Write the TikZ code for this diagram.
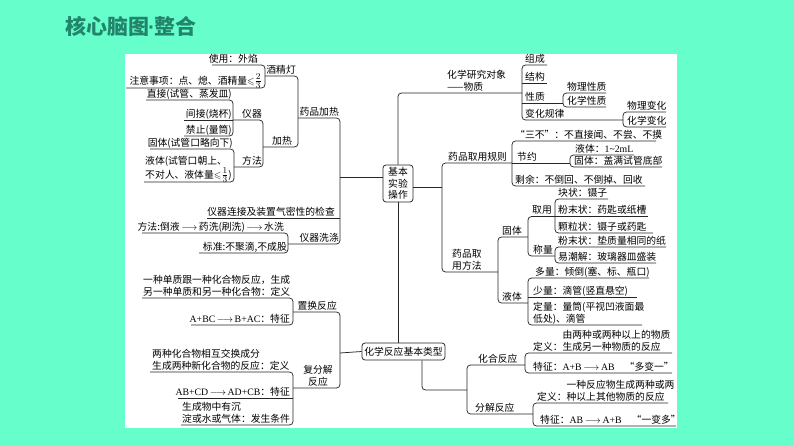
\documentclass[tikz,border=0pt]{standalone}
\usepackage{amssymb}
\usepackage{fontspec}
\setmainfont{Noto Sans CJK SC}
\newfontfamily\lat{Liberation Serif}
\newfontfamily\latsans{Liberation Sans}
\definecolor{bgc}{RGB}{102,255,204}
\definecolor{titlec}{RGB}{34,132,106}
\newcommand\myarr{\,$\longrightarrow$\,}
\newcommand\bigfrac[2]{{\fontsize{12.5}{12.5}\selectfont$\frac{#1}{#2}$}}
\newcommand\twol[2]{\begin{tabular}[b]{@{}l@{}}#1\\#2\end{tabular}}
\newcommand\twoc[2]{\begin{tabular}[b]{@{}c@{}}#1\\#2\end{tabular}}
\newcommand\defl[2]{\begin{tabular}[b]{@{}l@{}l@{}}&#1\\定义：&#2\end{tabular}}
\tikzset{
  ln/.style={draw=black!85, line width=0.75pt},
  br/.style={ln, rounded corners=3.5pt},
  t/.style={inner sep=0pt, font=\fontsize{9.8}{11.6}\selectfont},
  le/.style={t, anchor=base east},
  ri/.style={t, anchor=base west},
  box/.style={ln, rounded corners=3pt, inner sep=0pt, align=center, font=\fontsize{9.8}{11.6}\selectfont}
}
\begin{document}
\begin{tikzpicture}[x=1pt,y=-1pt]
\fill[bgc] (0,0) rectangle (794,446);
\useasboundingbox (0,0) rectangle (794,446);
\fill[white] (125,54) rectangle (677,428);
\node[font=\fontsize{21}{21}\selectfont\bfseries, text=titlec, anchor=base west, inner sep=0pt] (title) at (65,35) {核心脑图{\latsans\bfseries\kern-1pt·\kern-1pt}整合};

% root boxes
\node[box, minimum width=30, minimum height=37] (B1) at (398,183.5) {基本\\实验\\操作};
\node[box, minimum width=83, minimum height=17] (B2) at (403.5,351.5) {化学反应基本类型};

% ---------- left upper tree ----------
\node[le] (L1) at (258,62.5) {使用：外焰};
\node[le] (L2) at (262,84.5) {注意事项：点、熄、酒精量$\leqslant$\bigfrac{2}{3}};
\node[le] (L3) at (296,73.5) {酒精灯};
\node[le] (L4) at (232,97.5) {直接(试管、蒸发皿)};
\node[le] (L5) at (232,117.5) {间接(烧杯)};
\node[le] (L6) at (232,133.5) {禁止(量筒)};
\node[le] (L7) at (262,117.5) {仪器};
\node[le] (L8) at (233,146.5) {固体(试管口略向下)};
\node[ri] (L9) at (145,178.5) {\twol{液体(试管口朝上、}{不对人、液体量$\leqslant$\bigfrac{1}{3})}};
\node[le] (L10) at (262,164.5) {方法};
\node[le] (L11) at (292,144.5) {加热};
\node[le] (L12) at (339,115.5) {药品加热};
\node[le] (L13) at (335,215.5) {仪器连接及装置气密性的检查};
\node[le] (L14) at (284,230.5) {方法:倒液\myarr 药洗(刷洗)\myarr 水洗};
\node[le] (L15) at (287,250.5) {标准:不聚滴,不成股};
\node[le] (L16) at (339,241.5) {仪器洗涤};

\draw[br] (212,65) -- (265,65) -- (265,88) -- (126,88);
\draw[br] (265,76) -- (298,76) -- (298,147) -- (263,147);
\draw[br] (146,100) -- (233,100) -- (233,136) -- (184,136);
\draw[ln] (184,120) -- (233,120);
\draw[br] (233,120) -- (263,120) -- (263,167) -- (234,167);
\draw[br] (150,149) -- (234,149) -- (234,182) -- (144,182);
\draw[br] (298,118) -- (340,118) -- (340,244) -- (288,244);
\draw[ln] (207,218) -- (340,218);
\draw[br] (142,233) -- (288,233) -- (288,253) -- (199,253);
\draw[ln] ([yshift=6.5pt]B1.west) -- (340,177);

% ---------- left lower tree ----------
\node[ri] (L17) at (143,295.5) {\twol{一种单质跟一种化合物反应，生成}{另一种单质和另一种化合物：定义}};
\node[le] (L18) at (290,322.5) {{\lat A+BC}\myarr{\lat B+AC}：特征};
\node[le] (L19) at (337,309.5) {置换反应};
\node[ri] (L20) at (152,369.5) {\twol{两种化合物相互交换成分}{生成两种新化合物的反应：定义}};
\node[le] (L21) at (290,395.5) {{\lat AB+CD}\myarr{\lat AD+CB}：特征};
\node[ri] (L22) at (182,422.5) {\twol{生成物中有沉}{淀或水或气体：发生条件}};
\node[t, anchor=base] (L23) at (318,385.5) {\twoc{复分解}{反应}};

\draw[br] (142,298) -- (293,298) -- (293,325) -- (191,325);
\draw[br] (293,312) -- (340,312) -- (340,388) -- (293,388);
\draw[br] (150,372) -- (293,372) -- (293,425) -- (181,425);
\draw[ln] (178,398) -- (293,398);
\draw[ln] (B2.west) -- (340,353);

% ---------- right upper tree ----------
\node[ri] (R1) at (447,90.5) {\twol{化学研究对象}{——物质}};
\node[ri] (R2) at (525,62.5) {组成};
\node[ri] (R3) at (525,80.5) {结构};
\node[ri] (R4) at (525,100.5) {性质};
\node[ri] (R5) at (567,90.5) {物理性质};
\node[ri] (R6) at (567,104.5) {化学性质};
\node[ri] (R7) at (525,117.5) {变化规律};
\node[ri] (R8) at (627,109.5) {物理变化};
\node[ri] (R9) at (627,124.5) {化学变化};

\draw[br] (B1.north) |- (522,93);
\draw[br] (547,65) -- (522,65) -- (522,120) -- (623,120);
\draw[ln] (522,83) -- (547,83);
\draw[ln] (522,103) -- (563,103);
\draw[br] (606,93) -- (563,93) -- (563,107) -- (606,107);
\draw[br] (666,112) -- (623,112) -- (623,127) -- (666,127);

% ---------- right middle tree ----------
\node[ri] (R10) at (448,160.5) {药品取用规则};
\node[ri] (R11) at (515,138.5) {“三不”：不直接闻、不尝、不摸};
\node[ri] (R12) at (517,160.5) {节约};
\node[ri] (R13) at (575,152.5) {液体：{\lat 1\textasciitilde 2mL}};
\node[ri] (R14) at (574,164.5) {固体：盖满试管底部};
\node[ri] (R15) at (515,183.5) {剩余：不倒回、不倒掉、回收};
\node[ri] (R16) at (452,269.5) {\twol{药品取}{用方法}};
\node[ri] (R17) at (502,234.5) {固体};
\node[ri] (R18) at (532,213.5) {取用};
\node[ri] (R19) at (558,196.5) {块状：镊子};
\node[ri] (R20) at (558,214) {粉末状：药匙或纸槽};
\node[ri] (R21) at (558,230.5) {颗粒状：镊子或药匙};
\node[ri] (R22) at (533,253.5) {称量};
\node[ri] (R23) at (558,244.5) {粉末状：垫质量相同的纸};
\node[ri] (R24) at (558,260.5) {易潮解：玻璃器皿盛装};
\node[ri] (R25) at (502,300.5) {液体};
\node[ri] (R26) at (535,275.5) {多量：倾倒(塞、标、瓶口)};
\node[ri] (R27) at (533,294.5) {少量：滴管(竖直悬空)};
\node[ri] (R28) at (533,322.5) {\twol{定量：量筒(平视凹液面最}{低处)、滴管}};

\draw[ln] ([yshift=-3.5pt]B1.east) -- (442,187);
\draw[br] (512,163) -- (442,163) -- (442,272) -- (498,272);
\draw[br] (656,141) -- (512,141) -- (512,186) -- (645,186);
\draw[ln] (512,163) -- (570,163);
\draw[br] (634,155) -- (570,155) -- (570,167) -- (662,167);
\draw[br] (528,237) -- (498,237) -- (498,303) -- (528,303);
\draw[br] (555,216.5) -- (528,216.5) -- (528,256) -- (555,256);
\draw[br] (608,199) -- (555,199) -- (555,233) -- (653,233);
\draw[ln] (555,216.5) -- (648,216.5);
\draw[br] (666,247) -- (555,247) -- (555,263) -- (656,263);
\draw[br] (649,278) -- (528,278) -- (528,325) -- (642,325);
\draw[ln] (528,297) -- (637,297);

% ---------- right lower tree ----------
\node[ri] (R29) at (478,362.5) {化合反应};
\node[ri] (R30) at (533,350.5) {\defl{由两种或两种以上的物质}{生成另一种物质的反应}};
\node[ri] (R31) at (533,370.5) {特征：{\lat A+B}\myarr{\lat AB}\hspace{10pt}“多变一”};
\node[ri] (R32) at (475,411.5) {分解反应};
\node[ri] (R33) at (537,400.5) {\defl{一种反应物生成两种或两}{种以上其他物质的反应}};
\node[ri] (R34) at (540,423.5) {特征：{\lat AB}\myarr{\lat A+B}\hspace{10pt}“一变多”};

\draw[ln] (B1.south) -- (B1.south |- B2.north);
\draw[br] ([xshift=18.5pt]B2.south) |- (467,390);
\draw[br] (525,365) -- (467,365) -- (467,414) -- (533,414);
\draw[br] (672,353) -- (525,353) -- (525,373) -- (672,373);
\draw[br] (668,403) -- (533,403) -- (533,426) -- (676,426);
\end{tikzpicture}
\end{document}
